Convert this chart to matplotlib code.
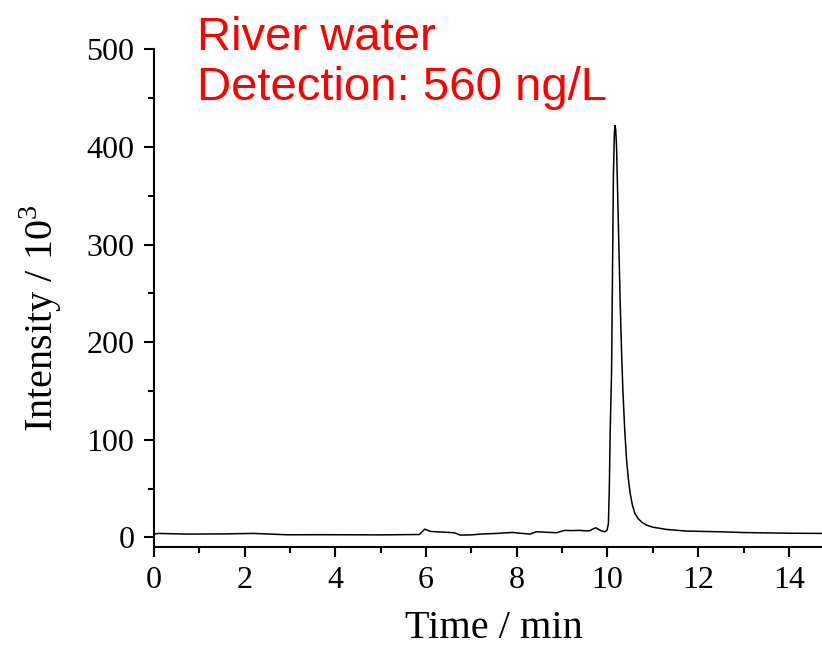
import matplotlib
matplotlib.use("Agg")
import matplotlib.pyplot as plt
from matplotlib.ticker import MultipleLocator

# Chromatogram trace (time in min, intensity in 10^3)
time_min = [0.0, 0.11, 0.73, 1.5, 2.2, 2.94, 3.6, 4.4, 5.0, 5.85, 5.97, 6.1,
            6.35, 6.62, 6.75, 7.0, 7.2, 7.6, 7.9, 8.1, 8.29, 8.43, 8.6, 8.87,
            9.05, 9.2, 9.38, 9.5, 9.6, 9.74, 9.86, 9.94, 9.99, 10.02, 10.04,
            10.06, 10.09, 10.11, 10.13, 10.15, 10.165, 10.18, 10.2, 10.22,
            10.25, 10.28, 10.31, 10.34, 10.38, 10.42, 10.46, 10.5, 10.55,
            10.6, 10.68, 10.76, 10.86, 11.0, 11.3, 11.74, 12.47, 13.0, 14.0, 14.73]
intensity = [3.5, 4.1, 3.4, 3.6, 4.1, 2.7, 2.8, 2.7, 2.6, 3.0, 8.5, 6.1,
             5.5, 4.8, 2.4, 2.6, 3.4, 4.2, 5.1, 4.2, 3.4, 5.8, 5.4, 4.8,
             7.2, 7.0, 7.2, 6.8, 6.8, 9.9, 6.8, 5.8, 7.5, 14, 50,
             110, 170, 270, 370, 412, 422, 418, 400, 360,
             300, 240, 190, 150, 110, 80, 60, 45, 33,
             25, 19, 15.5, 12.6, 10.5, 8.2, 6.5, 5.8, 5.0, 4.3, 4.1]

x_ticks = [0, 2, 4, 6, 8, 10, 12, 14]
y_ticks = [0, 100, 200, 300, 400, 500]
title_lines = ["River water", "Detection: 560 ng/L"]

serif = ["Liberation Serif", "DejaVu Serif"]
plt.rcParams["mathtext.fontset"] = "custom"
plt.rcParams["mathtext.rm"] = "Liberation Serif"

fig = plt.figure(figsize=(8.22, 6.49), dpi=100)
ax = fig.add_axes([154/822, 1 - 546.7/649, 1 - 154/822, (546.7 - 49.3)/649])

ax.plot(time_min, intensity, color="black", linewidth=1.1)

ax.set_xlim(0, 14.73)
ax.set_ylim(-9.5, 500)
ax.set_xticks(x_ticks)
ax.set_yticks(y_ticks)
ax.xaxis.set_minor_locator(MultipleLocator(1))
ax.yaxis.set_minor_locator(MultipleLocator(50))

for s in ["top", "right"]:
    ax.spines[s].set_visible(False)
for s in ["left", "bottom"]:
    ax.spines[s].set_linewidth(1.5)

ax.tick_params(which="major", direction="out", length=7, width=1.5,
               labelsize=23, pad=7)
ax.tick_params(which="minor", direction="out", length=4, width=1.5)
for lab in ax.get_xticklabels() + ax.get_yticklabels():
    lab.set_fontfamily(serif)

ax.set_xlabel("Time / min", fontsize=29, family=serif)
ax.set_ylabel(r"Intensity / 10$^3$", fontsize=29, family=serif)
ax.xaxis.set_label_coords(0.509, -0.128)
ax.yaxis.set_label_coords(-0.134, 0.46)

fig.text(197/822, 1 - 50/649, title_lines[0], color="red", fontsize=34,
         family="Liberation Sans", ha="left", va="baseline")
fig.text(197/822, 1 - 100/649, title_lines[1], color="red", fontsize=34,
         family="Liberation Sans", ha="left", va="baseline")

fig.savefig("out.png", dpi=100)
